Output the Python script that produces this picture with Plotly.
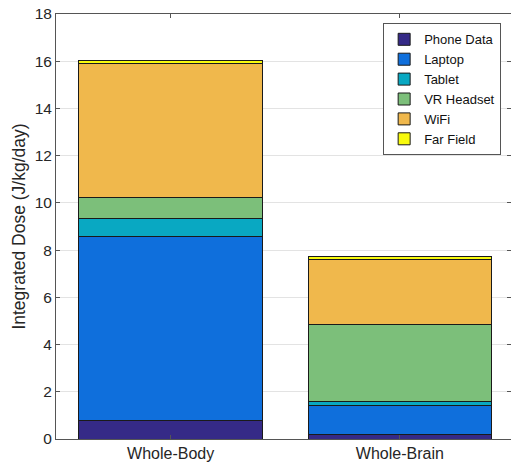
import plotly.graph_objects as go

# Integrated daily dose by exposure source
categories = ["Whole-Body", "Whole-Brain"]
sources = ["Phone Data", "Laptop", "Tablet", "VR Headset", "WiFi", "Far Field"]
phone_data = [0.80, 0.20]
laptop = [7.76, 1.20]
tablet = [0.79, 0.20]
vr_headset = [0.87, 3.27]
wifi = [5.67, 2.73]
far_field = [0.12, 0.15]
y_ticks = [0, 2, 4, 6, 8, 10, 12, 14, 16, 18]

series = [phone_data, laptop, tablet, vr_headset, wifi, far_field]
colors = ["#352A87", "#0F6FDC", "#09A8C2", "#7CBF7A", "#F0B84C", "#F8FA0D"]

fig = go.Figure()
for name, vals, col in zip(sources, series, colors):
    fig.add_trace(go.Bar(
        x=[1, 2], y=vals, name=name,
        marker=dict(color=col, line=dict(color="#1a1a1a", width=1)),
    ))

# empty trace so the right-hand tick axis gets drawn
fig.add_trace(go.Scatter(x=[None], y=[None], yaxis="y2", showlegend=False,
                         hoverinfo="skip", mode="markers"))

text_col = "#262626"
font = "Liberation Sans, Arial, sans-serif"

fig.update_layout(
    width=511, height=466,
    margin=dict(l=56, r=0, t=14, b=27),
    paper_bgcolor="white", plot_bgcolor="white",
    barmode="stack", bargap=0.2,
    font=dict(family=font, color=text_col, size=15),
    showlegend=True,
    legend=dict(
        x=0.719, y=0.978, xanchor="left", yanchor="top",
        traceorder="normal",
        bgcolor="white", bordercolor="#555555", borderwidth=1,
        font=dict(size=13, color="#111111"),
        tracegroupgap=0, itemwidth=30,
    ),
    xaxis=dict(
        range=[0.5, 2.485],
        tickvals=[1, 2], ticktext=categories,
        ticks="inside", ticklen=4, tickcolor="#555555",
        showline=True, linecolor="#555555", linewidth=1, mirror="ticks",
        showgrid=False, zeroline=False,
        tickfont=dict(size=16, color=text_col),
    ),
    yaxis=dict(
        range=[0, 18], tickvals=y_ticks,
        ticks="inside", ticklen=4, tickcolor="#555555",
        showline=True, linecolor="#555555", linewidth=1,
        showgrid=True, gridcolor="#e3e3e3", gridwidth=1,
        zeroline=False,
        title=dict(text="Integrated Dose (J/kg/day)", font=dict(size=17.5, color=text_col), standoff=4),
        tickfont=dict(size=15.5, color=text_col),
    ),
    # right-hand tick marks of the boxed axes
    yaxis2=dict(
        overlaying="y", side="right", range=[0, 18], tickvals=y_ticks,
        ticks="inside", ticklen=4, tickcolor="#555555",
        showticklabels=False, showline=False, showgrid=False, zeroline=False,
    ),
)

fig.write_html("out.html")
